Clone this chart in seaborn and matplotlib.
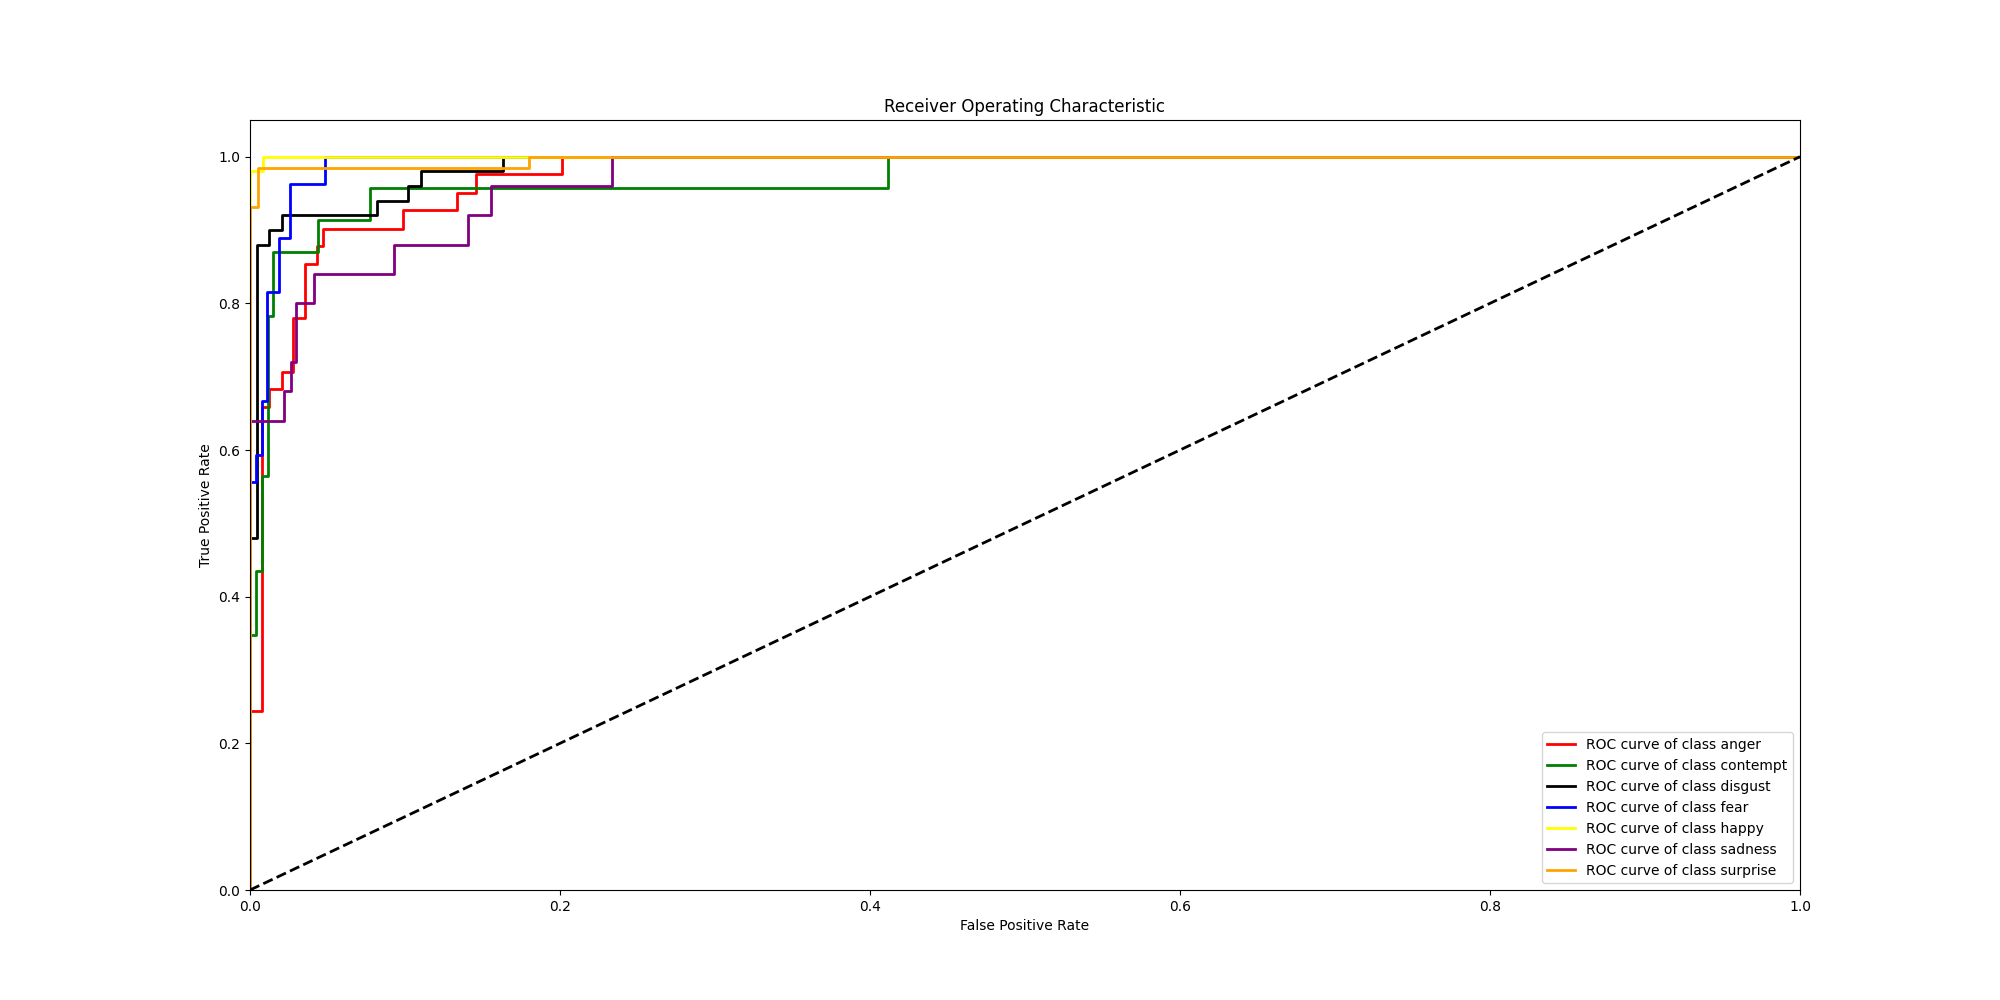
import matplotlib
matplotlib.use("Agg")
import matplotlib.pyplot as plt
import seaborn as sns
import pandas as pd

classes = ["anger", "contempt", "disgust", "fear", "happy", "sadness", "surprise"]
colors = ["red", "green", "black", "blue", "yellow", "purple", "orange"]

fpr_anger = [0, 0, 0.0079, 0.0079, 0.0125, 0.0125, 0.0204, 0.0204, 0.028, 0.028, 0.0355, 0.0355,
             0.043, 0.043, 0.0469, 0.0469, 0.0989, 0.0989, 0.1338, 0.1338, 0.1458, 0.1458, 0.201, 0.201, 1]
tpr_anger = [0, 0.244, 0.244, 0.659, 0.659, 0.683, 0.683, 0.707, 0.707, 0.780, 0.780, 0.854,
             0.854, 0.878, 0.878, 0.902, 0.902, 0.927, 0.927, 0.951, 0.951, 0.976, 0.976, 1, 1]

fpr_contempt = [0, 0, 0.0039, 0.0039, 0.0077, 0.0077, 0.0114, 0.0114, 0.015, 0.015, 0.044, 0.044,
                0.0774, 0.0774, 0.4118, 0.4118, 1]
tpr_contempt = [0, 0.348, 0.348, 0.435, 0.435, 0.565, 0.565, 0.783, 0.783, 0.870, 0.870, 0.913,
                0.913, 0.957, 0.957, 1, 1]

fpr_disgust = [0, 0, 0.0043, 0.0043, 0.0125, 0.0125, 0.0209, 0.0209, 0.0821, 0.0821, 0.102, 0.102,
               0.110, 0.110, 0.1634, 0.1634, 1]
tpr_disgust = [0, 0.48, 0.48, 0.88, 0.88, 0.90, 0.90, 0.92, 0.92, 0.94, 0.94, 0.96,
               0.96, 0.98, 0.98, 1, 1]

fpr_fear = [0, 0, 0.0039, 0.0039, 0.0077, 0.0077, 0.0108, 0.0108, 0.0189, 0.0189, 0.026, 0.026,
            0.0486, 0.0486, 1]
tpr_fear = [0, 0.556, 0.556, 0.593, 0.593, 0.667, 0.667, 0.815, 0.815, 0.889, 0.889, 0.963,
            0.963, 1, 1]

fpr_happy = [0, 0, 0.0086, 0.0086, 1]
tpr_happy = [0, 0.98, 0.98, 1, 1]

fpr_sadness = [0, 0, 0.022, 0.022, 0.0262, 0.0262, 0.0297, 0.0297, 0.041, 0.041, 0.0931, 0.0931,
               0.1409, 0.1409, 0.1555, 0.1555, 0.2337, 0.2337, 1]
tpr_sadness = [0, 0.64, 0.64, 0.68, 0.68, 0.72, 0.72, 0.80, 0.80, 0.84, 0.84, 0.88,
               0.88, 0.92, 0.92, 0.96, 0.96, 1, 1]

fpr_surprise = [0, 0, 0.005, 0.005, 0.18, 0.18, 1]
tpr_surprise = [0, 0.931, 0.931, 0.985, 0.985, 1, 1]

fprs = [fpr_anger, fpr_contempt, fpr_disgust, fpr_fear, fpr_happy, fpr_sadness, fpr_surprise]
tprs = [tpr_anger, tpr_contempt, tpr_disgust, tpr_fear, tpr_happy, tpr_sadness, tpr_surprise]

diag_x = [0, 1]
diag_y = [0, 1]

fig, ax = plt.subplots(figsize=(20, 10), dpi=100)

for cls, col, fx, ty in zip(classes, colors, fprs, tprs):
    df = pd.DataFrame({"fpr": fx, "tpr": ty})
    sns.lineplot(data=df, x="fpr", y="tpr", sort=False, estimator=None, color=col,
                 linewidth=2, label=f"ROC curve of class {cls}", ax=ax)

sns.lineplot(x=diag_x, y=diag_y, color="black", linestyle="--", linewidth=2, ax=ax, legend=False)

ax.set_xlim(0.0, 1.0)
ax.set_ylim(0.0, 1.05)
ax.set_xlabel("False Positive Rate")
ax.set_ylabel("True Positive Rate")
ax.set_title("Receiver Operating Characteristic")
ax.legend(loc="lower right")

fig.savefig("out.png", dpi=100)
